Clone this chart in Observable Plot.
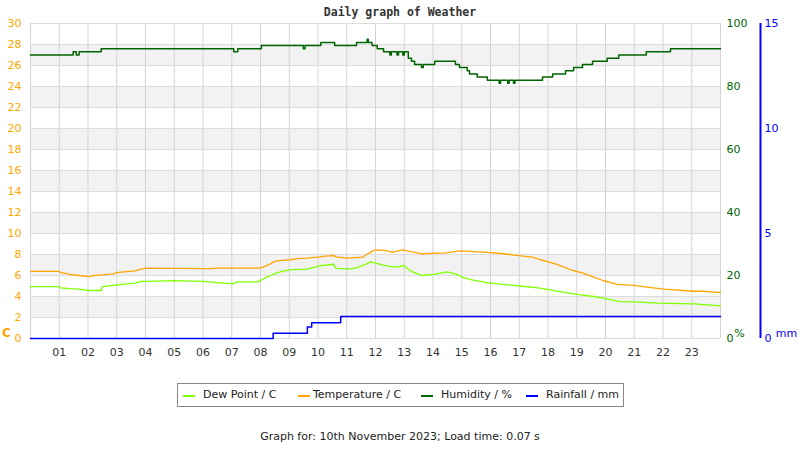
<!DOCTYPE html>
<html>
<head>
<meta charset="utf-8">
<script src="https://cdn.jsdelivr.net/npm/d3@7"></script>
<script src="https://cdn.jsdelivr.net/npm/@observablehq/plot@0.6"></script>
<style>
  html, body { margin: 0; padding: 0; background: #fff; }
  #page { position: relative; width: 800px; height: 450px; font-family: "DejaVu Sans", sans-serif; }
  #title { position: absolute; left: 0; top: 5px; width: 800px; text-align: center; font-family: "DejaVu Sans Mono", monospace; font-weight: bold; font-size: 11.5px; color: #333; }
  #chart { position: absolute; left: 0; top: 0; }
  #legend { position: absolute; left: 177px; top: 383px; width: 445px; height: 22px; border: 1px solid #888; font-size: 11px; color: #222; }
  .item { position: absolute; top: 0; height: 22px; line-height: 22px; white-space: nowrap; }
  .sw { position: absolute; top: 11px; width: 12px; height: 2px; }
  #caption { position: absolute; left: 0; top: 430px; width: 800px; text-align: center; font-size: 11px; color: #222; }
</style>
</head>
<body>
<div id="page">
  <div id="chart"></div>
  <div id="title"></div>
  <div id="legend"></div>
  <div id="caption"></div>
</div>
<script>
// ---- Data (hours since midnight) ----
const titleText = "Daily graph of Weather";
const captionText = "Graph for: 10th November 2023; Load time: 0.07 s";

const tempHours = [0.0, 0.98, 1.04, 1.37, 1.68, 2.03, 2.2, 2.49, 2.86, 3.05, 3.65, 3.83, 4.06, 6.26, 6.54, 7.93, 8.03, 8.17, 8.31, 8.46, 8.58, 8.78, 9.04, 9.28, 9.62, 10.01, 10.24, 10.54, 10.67, 11.02, 11.56, 11.68, 11.83, 11.94, 12.11, 12.41, 12.58, 12.93, 13.19, 13.45, 13.62, 14.43, 14.96, 15.89, 16.46, 16.98, 17.45, 17.74, 17.97, 18.26, 18.55, 18.84, 19.25, 19.59, 19.94, 20.41, 20.98, 21.45, 22.03, 23.06, 23.42, 23.89, 24.0];
const tempValues = [6.4, 6.4, 6.3, 6.1, 6.0, 5.9, 6.0, 6.05, 6.15, 6.3, 6.45, 6.6, 6.7, 6.65, 6.7, 6.7, 6.75, 6.9, 7.05, 7.3, 7.4, 7.45, 7.5, 7.6, 7.65, 7.75, 7.85, 7.9, 7.75, 7.65, 7.75, 8.0, 8.2, 8.4, 8.45, 8.35, 8.2, 8.45, 8.3, 8.15, 8.07, 8.15, 8.35, 8.2, 8.07, 7.9, 7.75, 7.5, 7.33, 7.1, 6.8, 6.5, 6.2, 5.85, 5.5, 5.15, 5.05, 4.9, 4.7, 4.5, 4.5, 4.4, 4.4];

const dewHours = [0.0, 0.98, 1.04, 1.37, 1.68, 2.03, 2.46, 2.49, 3.04, 3.65, 3.83, 4.06, 5.0, 6.0, 7.02, 7.19, 7.9, 8.06, 8.17, 8.31, 8.52, 8.75, 9.08, 9.62, 10.09, 10.55, 10.61, 11.02, 11.3, 11.48, 11.65, 11.83, 12.17, 12.41, 12.75, 12.99, 13.16, 13.33, 13.62, 14.03, 14.49, 14.84, 15.02, 15.31, 15.94, 16.41, 17.04, 17.74, 18.55, 19.13, 19.59, 20.06, 20.52, 21.22, 21.8, 23.07, 23.54, 24.0];
const dewValues = [4.95, 4.95, 4.83, 4.75, 4.7, 4.57, 4.57, 4.95, 5.1, 5.27, 5.43, 5.45, 5.52, 5.45, 5.2, 5.4, 5.4, 5.6, 5.8, 5.95, 6.2, 6.4, 6.55, 6.6, 6.95, 7.07, 6.7, 6.6, 6.7, 6.9, 7.05, 7.3, 7.05, 6.9, 6.8, 6.95, 6.55, 6.3, 6.0, 6.1, 6.35, 6.1, 5.85, 5.6, 5.3, 5.15, 5.0, 4.8, 4.4, 4.15, 4.0, 3.78, 3.52, 3.46, 3.36, 3.3, 3.2, 3.1];

const humHours = [0, 1.485, 1.59, 1.69, 2.46, 7.07, 7.21, 8.03, 9.49, 9.55, 10.10, 10.58, 11.34, 11.71, 11.75, 11.88, 12.06, 12.28, 12.5, 12.55, 12.75, 12.8, 12.95, 13.0, 13.14, 13.25, 13.36, 13.6, 13.66, 14.06, 14.78, 14.92, 15.19, 15.27, 15.54, 15.89, 16.3, 16.35, 16.6, 16.65, 16.8, 16.85, 17.81, 18.16, 18.61, 18.89, 19.20, 19.55, 20.06, 20.46, 21.42, 22.26, 24];
const humValues = [90, 91, 90, 91, 92, 91, 92, 93, 92, 93, 94, 93, 94, 95, 94, 93, 92, 91, 90, 91, 90, 91, 90, 91, 89, 88, 87, 86, 87, 88, 87, 86, 85, 84, 83, 82, 81, 82, 81, 82, 81, 82, 83, 84, 85, 86, 87, 88, 89, 90, 91, 92, 92];

const rainHours = [0, 8.44, 9.63, 9.78, 10.79, 24];
const rainValues = [0, 0.25, 0.55, 0.75, 1.05, 1.05];

const hourTicks = d3.range(1, 24);
const leftTicks = d3.range(0, 31, 2);
const humTickLabels = [0, 20, 40, 60, 80, 100];
const rainTickLabels = [0, 5, 10, 15];
const legendLabels = ["Dew Point / C", "Temperature / C", "Humidity / %", "Rainfall / mm"];

// ---- Styles ----
const cDew = "#80ff00", cTemp = "#ffa500", cHum = "#006400", cRain = "#0000ff";
const humScale = 30 / 100;   // humidity % -> left scale
const rainScale = 30 / 15;   // rainfall mm -> left scale

const temp = tempHours.map((h, i) => ({h, v: tempValues[i]}));
const dew = dewHours.map((h, i) => ({h, v: dewValues[i]}));
const hum = humHours.map((h, i) => ({h, v: humValues[i] * humScale}));
const rain = rainHours.map((h, i) => ({h, v: rainValues[i] * rainScale}));
const bands = leftTicks.filter(t => t % 4 === 2 && t < 30);

const chart = Plot.plot({
  width: 800,
  height: 370,
  marginLeft: 30,
  marginRight: 80,
  marginTop: 23,
  marginBottom: 32,
  style: {fontFamily: "DejaVu Sans, sans-serif", fontSize: "11px", background: "transparent", overflow: "visible"},
  x: {domain: [0, 24]},
  y: {domain: [0, 30]},
  marks: [
    Plot.rect(bands, {x1: 0, x2: 24, y1: d => d, y2: d => d + 2, fill: "#f2f2f2"}),
    Plot.gridX({ticks: d3.range(0, 25), stroke: "#d3d3d3", strokeOpacity: 1}),
    Plot.gridY({ticks: leftTicks, stroke: "#dcdcdc", strokeOpacity: 1}),
    Plot.line(rain, {x: "h", y: "v", stroke: cRain, strokeWidth: 1.5, curve: "step-after"}),
    Plot.line(dew, {x: "h", y: "v", stroke: cDew, strokeWidth: 1.3}),
    Plot.line(temp, {x: "h", y: "v", stroke: cTemp, strokeWidth: 1.3}),
    Plot.line(hum, {x: "h", y: "v", stroke: cHum, strokeWidth: 1.5, curve: "step-after"}),
    Plot.axisY({anchor: "left", ticks: leftTicks, tickSize: 0, tickPadding: 9, fill: cTemp, fontSize: 11, label: null}),
    Plot.axisY({anchor: "right", ticks: humTickLabels.map(d => d * humScale), tickFormat: d => String(Math.round(d / humScale)), tickSize: 0, tickPadding: 6, fill: cHum, fontSize: 11, label: null}),
    Plot.axisY({anchor: "right", ticks: rainTickLabels.map(d => d * rainScale), tickFormat: d => String(Math.round(d / rainScale)), tickSize: 0, tickPadding: 4, dx: 40, fill: cRain, fontSize: 11, label: null}),
    Plot.ruleX([24], {dx: 40, stroke: cRain, strokeWidth: 2}),
    Plot.axisX({ticks: hourTicks, tickFormat: d => String(d).padStart(2, "0"), tickSize: 0, tickPadding: 10, fill: "#333", fontSize: 11, label: null}),
    Plot.text(["C"], {x: 24, y: 0, dx: -714, dy: -5, text: d => d, fill: cTemp, fontSize: 12, fontWeight: "bold"}),
    Plot.text(["%"], {x: 24, y: 0, dx: 19, dy: -5, text: d => d, fill: cHum, fontSize: 11}),
    Plot.text(["mm"], {x: 24, y: 0, dx: 66, dy: -5, text: d => d, fill: cRain, fontSize: 11})
  ]
});
document.getElementById("chart").appendChild(chart);

document.getElementById("title").textContent = titleText;
document.getElementById("caption").textContent = captionText;

const legend = document.getElementById("legend");
const colors = [cDew, cTemp, cHum, cRain];
const swX = [5, 120, 243, 348];
const txX = [25, 135, 263, 368];
legendLabels.forEach((lab, i) => {
  const sw = document.createElement("div");
  sw.className = "sw";
  sw.style.left = swX[i] + "px";
  sw.style.background = colors[i];
  legend.appendChild(sw);
  const t = document.createElement("div");
  t.className = "item";
  t.style.left = txX[i] + "px";
  t.textContent = lab;
  legend.appendChild(t);
});
</script>
</body>
</html>
